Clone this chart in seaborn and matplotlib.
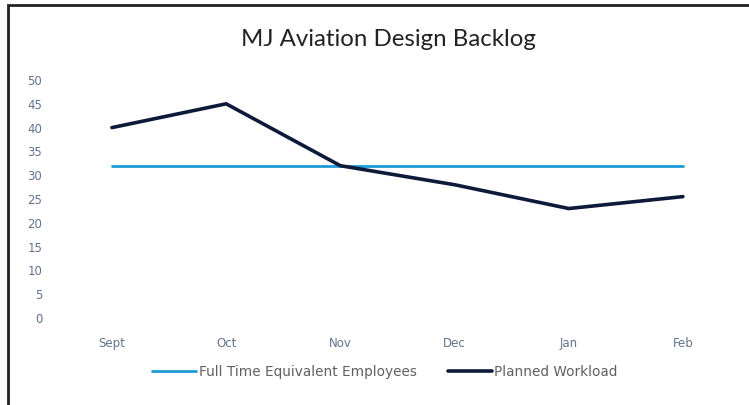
import pandas as pd
import matplotlib.pyplot as plt
import seaborn as sns
from matplotlib.patches import Rectangle

# Data
months = ["Sept", "Oct", "Nov", "Dec", "Jan", "Feb"]
fte_employees = [32, 32, 32, 32, 32, 32]
planned_workload = [40, 45, 32, 28, 23, 25.5]
y_ticks = [0, 5, 10, 15, 20, 25, 30, 35, 40, 45, 50]

FTE_LABEL = "Full Time Equivalent Employees"
PLAN_LABEL = "Planned Workload"

df = pd.DataFrame({
    "month": months * 2,
    "x": list(range(len(months))) * 2,
    "value": fte_employees + planned_workload,
    "series": [FTE_LABEL] * len(months) + [PLAN_LABEL] * len(months),
})

sns.set_style("white")
plt.rcParams["font.family"] = ["DejaVu Sans"]

W, H = 749, 405
fig = plt.figure(figsize=(W / 100, H / 100), dpi=100)
# plot area: 52..740 px wide, 80..318 px tall
ax = fig.add_axes([52 / W, 1 - 318 / H, 688 / W, 238 / H])

palette = {FTE_LABEL: "#1e9ad6", PLAN_LABEL: "#0e1a3a"}
sns.lineplot(data=df, x="x", y="value", hue="series", palette=palette,
             ax=ax, legend=False, sort=False)
for line, lw in zip(ax.lines, [2.0, 2.6]):
    line.set_linewidth(lw)

ax.set_xlim(-0.525, 5.5)
ax.set_ylim(0, 50)
ax.set_yticks(y_ticks)
ax.set_xticks(range(len(months)))
ax.set_xticklabels(months)
ax.tick_params(axis="both", length=0, labelsize=8.5, colors="#62738f")
ax.tick_params(axis="x", pad=14)
ax.tick_params(axis="y", pad=7)
ax.set_xlabel("")
ax.set_ylabel("")
sns.despine(ax=ax, left=True, bottom=True)

fig.text(388 / W, 1 - 40 / H, "MJ Aviation Design Backlog",
         ha="center", va="center", fontsize=17.3, color="#222222",
         family=["Lato", "DejaVu Sans"])

handles = [plt.Line2D([], [], color=palette[FTE_LABEL], lw=2.0),
           plt.Line2D([], [], color=palette[PLAN_LABEL], lw=2.6)]
fig.legend(handles, [FTE_LABEL, PLAN_LABEL], loc="center",
           bbox_to_anchor=(385 / W, 1 - 372 / H), ncol=2, frameon=False,
           fontsize=9.8, labelcolor="#606060", handlelength=3.2,
           handletextpad=0.2, columnspacing=2.3)

# scanned frame around the chart
fig.patches.append(Rectangle((8 / W, -0.01), 1.0, 1 - 5 / H + 0.01,
                             transform=fig.transFigure, fill=False,
                             edgecolor="#222222", lw=2.0))

fig.savefig("out.png", dpi=100)
